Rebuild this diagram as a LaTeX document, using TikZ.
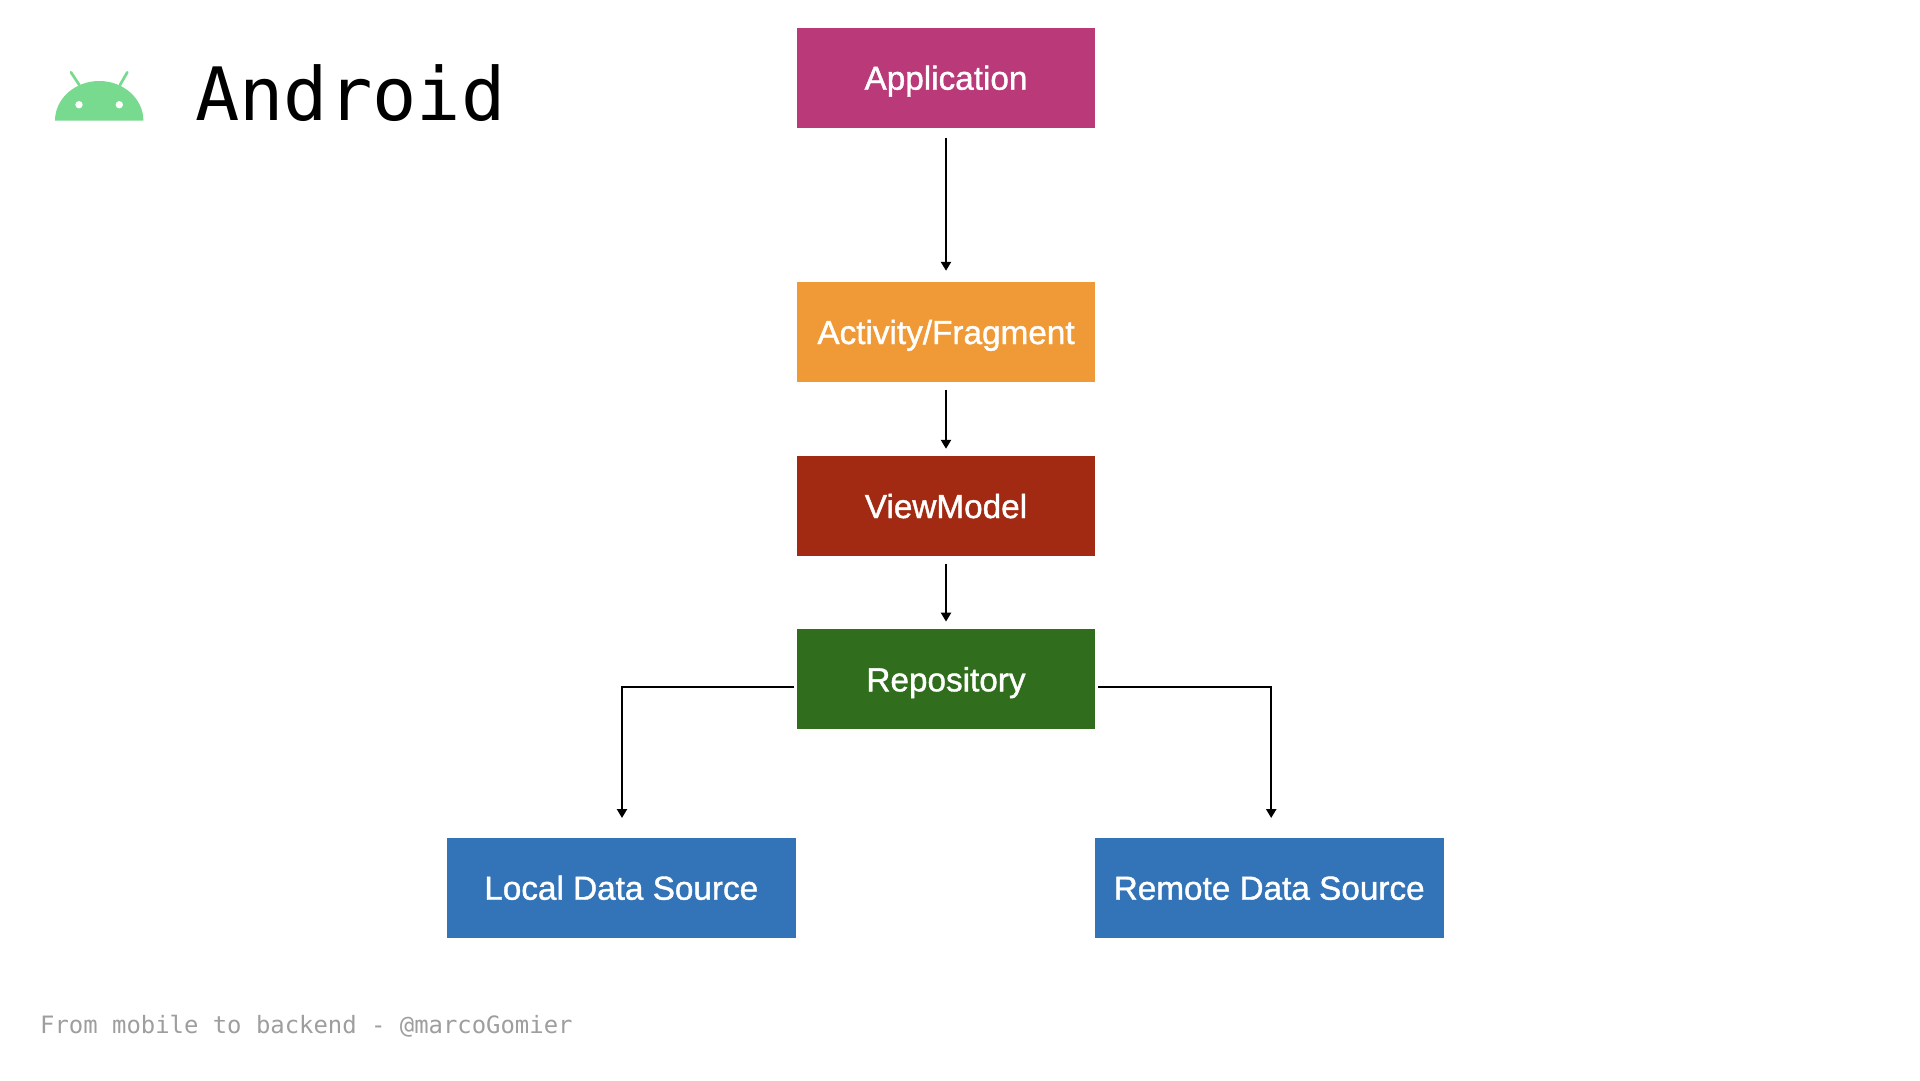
\documentclass[tikz,border=0pt]{standalone}
\usepackage{fontspec}
\setmainfont{Liberation Sans}
\newfontfamily\monof{DejaVu Sans Mono}
\newfontfamily\labf[FakeBold=1.2]{Liberation Sans}
\usetikzlibrary{arrows.meta}
\definecolor{appc}{HTML}{BA3979}
\definecolor{actc}{HTML}{F09A37}
\definecolor{vmc}{HTML}{A32A12}
\definecolor{repoc}{HTML}{306E1E}
\definecolor{bluec}{HTML}{3373B7}
\definecolor{logoc}{HTML}{77DA8F}
\tikzset{
  box/.style={rectangle,inner sep=0pt,minimum width=298pt,minimum height=100pt,text=white,text height=24pt,text depth=0pt,font=\labf\fontsize{33.3}{36}\selectfont},
  wide/.style={box,minimum width=349pt},
  conn/.style={draw=black,line width=2.2pt,-{Triangle[width=10pt,length=9pt]}},
  dir/.style={conn,shorten <=#1,shorten >=11pt}
}
\begin{document}
\begin{tikzpicture}[x=1pt,y=-1pt]
\useasboundingbox (0,0) rectangle (1920,1080);
\fill[white] (0,0) rectangle (1920,1080);
% logo
\fill[logoc] (55,120.7) arc[start angle=180,end angle=360,x radius=44.2,y radius=39.7] -- cycle;
\draw[logoc,line width=2.7pt,line cap=round] (79.3,85) -- (71,72.3);
\draw[logoc,line width=2.7pt,line cap=round] (120,85) -- (127.3,72.3);
\fill[white] (79,104.7) circle (3.7);
\fill[white] (119.3,104.7) circle (3.7);
\node[anchor=base west,inner sep=0pt] (title) at (195,120.7) {\monof\fontsize{73.6}{80}\selectfont Android};
\node[anchor=base west,inner sep=0pt,text=black!38] (foot) at (40,1033) {\monof\fontsize{23.9}{27}\selectfont From mobile to backend - @marcoGomier};
% boxes
\node[box,fill=appc] (app) at (946,77.7) {Application};
\node[box,fill=actc] (act) at (946,332) {Activity/Fragment};
\node[box,fill=vmc] (vm) at (946,506) {ViewModel};
\node[box,fill=repoc] (repo) at (946,679.3) {Repository};
\node[wide,fill=bluec] (local) at (621.3,887.7) {Local Data Source};
\node[wide,fill=bluec] (remote) at (1269.2,887.7) {Remote Data Source};
% connectors
\draw[dir=10.5pt] (app.south) -- (act.north);
\draw[conn,shorten <=7.5pt,shorten >=7pt] (act.south) -- (vm.north);
\draw[conn,shorten <=7.5pt,shorten >=7.5pt] (vm.south) -- (repo.north);
\draw[conn,shorten <=2.6pt,shorten >=19.5pt] ([yshift=-8pt]repo.west) -| ([xshift=0.7pt]local.north);
\draw[conn,shorten <=3pt,shorten >=19.5pt] ([yshift=-8pt]repo.east) -| ([xshift=2pt]remote.north);
\end{tikzpicture}
\end{document}
